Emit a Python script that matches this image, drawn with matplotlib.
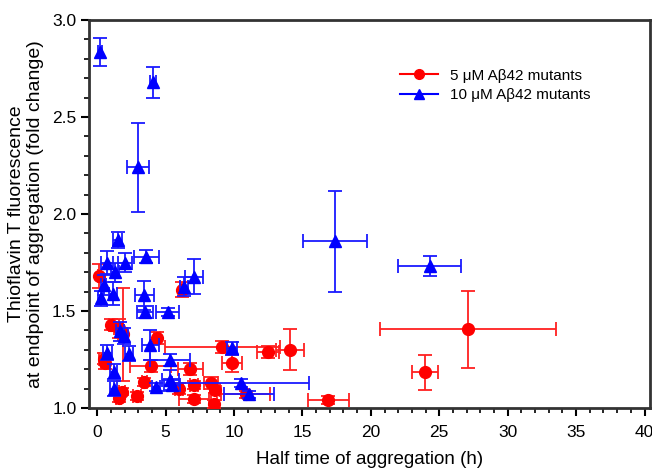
import matplotlib.pyplot as plt
from matplotlib.ticker import MultipleLocator
from matplotlib.lines import Line2D

plt.rcParams['font.family'] = ['Liberation Sans', 'DejaVu Sans']

# 5 uM Abeta42 mutants: half time (h), ThT fold change, and their errors
red_x = [0.15, 6.2, 1.03, 1.56, 1.85, 4.37, 9.13, 12.5, 14.1, 27.1, 9.85, 0.46, 0.59,
         3.9, 6.8, 3.45, 8.3, 5.96, 8.64, 7.06, 1.8, 1.56, 2.9, 7.06, 8.52, 10.85, 16.9, 23.98]
red_y = [1.68, 1.61, 1.43, 1.41, 1.38, 1.36, 1.316, 1.29, 1.30, 1.405, 1.23, 1.255, 1.23,
         1.215, 1.20, 1.135, 1.13, 1.10, 1.095, 1.118, 1.085, 1.05, 1.062, 1.045, 1.022, 1.07, 1.04, 1.184]
red_xerr = [0.1, 0.15, 0.2, 0.3, 0.3, 0.2, 4.2, 0.8, 1.0, 6.4, 0.7, 0.3, 0.3,
            1.5, 0.9, 0.2, 0.5, 0.3, 0.3, 0.3, 0.2, 0.2, 0.3, 1.1, 0.2, 1.8, 1.5, 0.95]
red_yerr = [0.06, 0.04, 0.03, 0.05, 0.24, 0.03, 0.03, 0.03, 0.105, 0.20, 0.045, 0.03, 0.03,
            0.03, 0.03, 0.02, 0.03, 0.03, 0.02, 0.02, 0.02, 0.02, 0.02, 0.02, 0.02, 0.02, 0.02, 0.09]

# 10 uM Abeta42 mutants
blue_x = [0.2, 4.08, 3.0, 1.49, 3.6, 0.71, 2.05, 1.32, 0.46, 6.33, 7.06, 1.15, 3.44, 0.25,
          3.5, 5.15, 17.4, 24.3, 1.69, 1.93, 3.88, 9.87, 0.75, 2.3, 5.3, 1.2, 1.2, 4.3,
          5.35, 5.47, 10.5, 11.1]
blue_y = [2.835, 2.68, 2.24, 1.865, 1.78, 1.75, 1.75, 1.70, 1.634, 1.625, 1.677, 1.59, 1.58, 1.565,
          1.496, 1.496, 1.86, 1.733, 1.395, 1.37, 1.325, 1.307, 1.285, 1.28, 1.247, 1.187, 1.10, 1.11,
          1.144, 1.118, 1.127, 1.07]
blue_xerr = [0.15, 0.2, 0.8, 0.35, 0.9, 0.45, 0.5, 0.3, 0.2, 0.3, 0.65, 0.3, 0.7, 0.2,
             0.6, 0.85, 2.35, 2.3, 0.3, 0.3, 0.6, 0.35, 0.3, 0.3, 1.45, 0.25, 0.25, 0.3,
             0.6, 0.6, 5.0, 1.8]
blue_yerr = [0.07, 0.08, 0.23, 0.04, 0.035, 0.06, 0.05, 0.05, 0.05, 0.05, 0.09, 0.06, 0.075, 0.04,
             0.03, 0.02, 0.26, 0.05, 0.05, 0.04, 0.075, 0.035, 0.04, 0.04, 0.03, 0.04, 0.04, 0.02,
             0.05, 0.03, 0.02, 0.02]

labels = ["5 \u03bcM A\u03b242 mutants", "10 \u03bcM A\u03b242 mutants"]

fig = plt.figure(figsize=(6.52, 4.70), dpi=100)
ax = fig.add_axes([0.1365, 0.1319, 0.8604, 0.8255])

ax.errorbar(red_x, red_y, xerr=red_xerr, yerr=red_yerr, fmt='o', color='#ff0000',
            ecolor='#ff2020', markersize=8.5, elinewidth=1.3, capsize=5, capthick=1.3,
            label=labels[0], zorder=3)
ax.errorbar(blue_x, blue_y, xerr=blue_xerr, yerr=blue_yerr, fmt='^', color='#0000ff',
            ecolor='#1a1aff', markersize=8.5, elinewidth=1.3, capsize=5, capthick=1.3,
            label=labels[1], zorder=4)

ax.set_xlim(-0.6, 40.4)
ax.set_ylim(1.0, 3.0)
ax.xaxis.set_major_locator(MultipleLocator(5))
ax.xaxis.set_minor_locator(MultipleLocator(1))
ax.yaxis.set_major_locator(MultipleLocator(0.5))
ax.yaxis.set_minor_locator(MultipleLocator(0.1))
ax.yaxis.set_major_formatter(plt.FormatStrFormatter('%.1f'))
ax.tick_params(which='major', direction='out', length=6, width=1.5, labelsize=12.5, pad=6)
ax.tick_params(which='minor', direction='out', length=3.5, width=1.2)
ax.tick_params(axis='y', pad=3)
for s in ax.spines.values():
    s.set_linewidth(2)
    s.set_color('#333333')

ax.set_xlabel("Half time of aggregation (h)", fontsize=13.5, labelpad=8)
ax.set_ylabel("Thioflavin T fluorescence\nat endpoint of aggregation (fold change)",
              fontsize=14, labelpad=6, linespacing=1.1)

h = [Line2D([], [], color='#ff0000', marker='o', markersize=7),
     Line2D([], [], color='#0000ff', marker='^', markersize=7)]
ax.legend(h, labels, loc='upper left', bbox_to_anchor=(0.53, 0.91), frameon=False,
          fontsize=11, handlelength=2.5, labelspacing=0.35)

fig.savefig("out.png", dpi=100)
